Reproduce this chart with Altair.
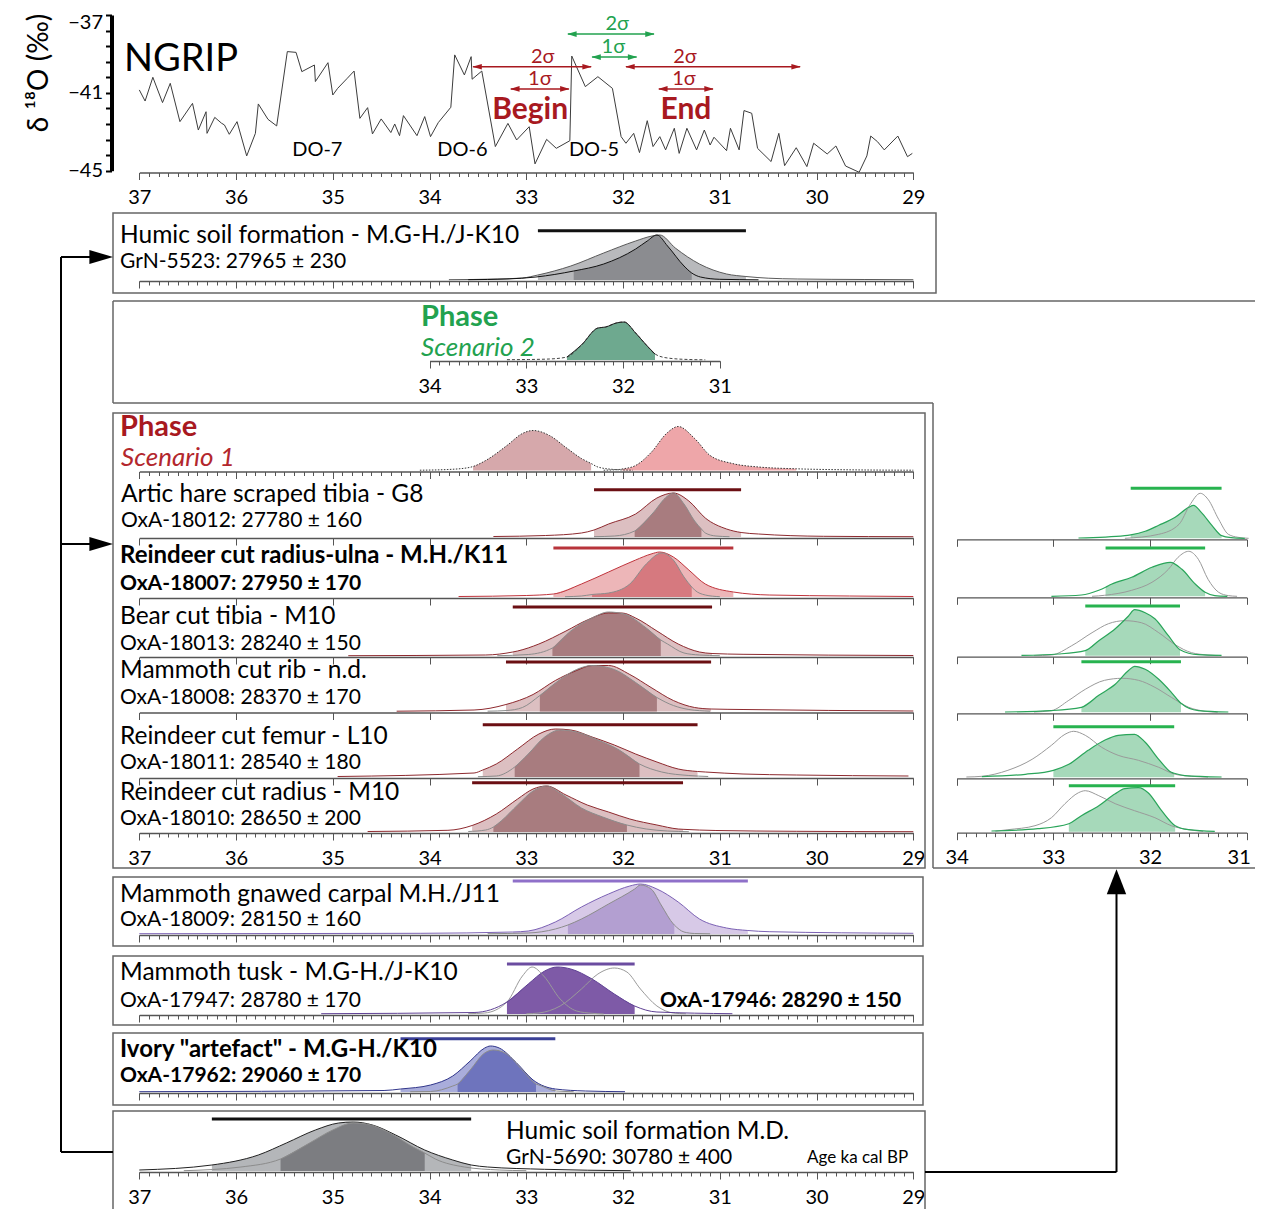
import altair as alt
import pandas as pd

# ============================ DATA ============================
# NGRIP delta-18O record (age ka cal BP, permil)
NGRIP_AGE = [37.00, 36.94, 36.86, 36.76, 36.68, 36.58, 36.45, 36.39, 36.31, 36.30,
             36.22, 36.15, 36.12, 36.07, 35.99, 35.89, 35.80, 35.77, 35.67, 35.58,
             35.47, 35.38, 35.32, 35.19, 35.18, 35.05, 35.00, 34.95, 34.85, 34.78,
             34.72, 34.64, 34.59, 34.50, 34.40, 34.36, 34.31, 34.27, 34.13, 34.05,
             33.99, 33.91, 33.78, 33.74, 33.64, 33.57, 33.56, 33.46, 33.32, 33.19,
             33.10, 32.97, 32.91, 32.79, 32.69, 32.55, 32.53, 32.39, 32.26, 32.11,
             32.02, 31.97, 31.89, 31.83, 31.75, 31.69, 31.62, 31.56, 31.47, 31.42,
             31.34, 31.24, 31.16, 31.10, 31.06, 30.93, 30.89, 30.80, 30.75, 30.67,
             30.61, 30.47, 30.39, 30.33, 30.21, 30.10, 30.03, 29.89, 29.80, 29.70,
             29.56, 29.48, 29.44, 29.37, 29.30, 29.16, 29.06, 29.01]
NGRIP_D18O = [-40.85, -41.42, -40.20, -41.50, -40.51, -42.48, -41.54, -42.91, -41.97, -43.08,
              -42.26, -42.56, -42.65, -43.13, -42.48, -44.24, -43.08, -41.57, -42.36, -42.70,
              -38.88, -38.92, -39.91, -39.57, -40.42, -39.45, -41.11, -40.77, -40.25, -39.88,
              -42.31, -41.76, -43.11, -42.34, -43.04, -42.60, -43.20, -42.17, -43.20, -42.22,
              -43.25, -42.53, -41.74, -39.05, -40.08, -39.14, -40.30, -39.88, -43.76, -42.57,
              -43.42, -42.74, -44.65, -43.39, -43.85, -43.46, -39.11, -40.68, -40.17, -40.77,
              -43.25, -43.59, -43.08, -44.07, -42.43, -43.76, -43.25, -43.93, -42.82, -44.11,
              -42.82, -43.93, -42.91, -43.68, -43.28, -43.97, -42.82, -43.93, -41.91, -42.05,
              -43.85, -44.53, -43.08, -44.74, -43.82, -44.79, -43.59, -44.14, -43.73, -44.76,
              -45.08, -44.24, -43.22, -43.51, -43.93, -43.22, -44.28, -44.11]

AGE_TICKS = [37, 36, 35, 34, 33, 32, 31, 30, 29]
AGE_MINOR = [round(29 + i / 10, 1) for i in range(81)]
SUB_TICKS = [34, 33, 32, 31]
SUB_MINOR = [round(31 + i / 10, 1) for i in range(31)]
D18O_TICKS = [-37, -37.8, -38.6, -39.4, -40.2, -41, -41.8, -42.6, -43.4, -44.2, -45]
D18O_LABELLED = [-37, -41, -45]

# boundary ranges (ka)
BEGIN_2S = [33.55, 32.33]
BEGIN_1S = [33.16, 32.56]
PHASE2_2S = [32.57, 31.68]
PHASE2_1S = [32.32, 31.86]
END_2S = [31.97, 30.17]
END_1S = [31.63, 31.07]

# probability curves: (age ka, relative probability)
HUMIC1_LIK = [(33.8, 0.3), (33.3, 1.0), (33.04, 2.0), (32.88, 5.0), (32.54, 14), (32.2, 27), (31.87, 39),
              (31.7, 44), (31.62, 45), (31.46, 32), (31.21, 16), (30.93, 6), (30.73, 3.5), (30.5, 1.8),
              (30.2, 1.0), (29.5, 0.5), (29.0, 0.3)]
HUMIC1_POST = [(33.6, 0.3), (33.2, 1.0), (32.9, 3.0), (32.51, 9), (32.2, 16), (31.87, 31), (31.75, 39),
               (31.65, 45), (31.54, 34), (31.37, 14), (31.29, 7), (31.2, 3), (31.0, 0.7), (30.6, 0.2)]
PHASE2_PDF = [(33.2, 0.3), (32.98, 0.5), (32.76, 1.0), (32.58, 3.0), (32.43, 15), (32.26, 32), (32.18, 33),
              (32.07, 37), (31.99, 38), (31.87, 27), (31.76, 15), (31.67, 6), (31.54, 2), (31.32, 0.5),
              (31.15, 0.2)]
BEGIN_PDF = [(34.1, 0.3), (33.81, 1.0), (33.59, 3.0), (33.55, 4.0), (33.42, 10), (33.2, 25), (33.04, 37),
             (32.93, 40), (32.76, 35), (32.59, 23), (32.43, 12), (32.33, 7), (32.26, 3.5), (32.09, 1.0),
             (31.9, 0.3)]
END_PDF = [(32.2, 0.3), (32.04, 1.0), (32.01, 1.5), (31.87, 5), (31.71, 18), (31.54, 38), (31.43, 44),
           (31.26, 32), (31.1, 15), (30.87, 7), (30.6, 3.5), (30.21, 1.7), (29.66, 0.7), (29.0, 0.3)]
HARE_LIK = [(33.34, 0.5), (32.8, 1.5), (32.43, 4), (32.3, 7), (32.15, 13), (31.87, 23), (31.65, 39),
            (31.48, 44), (31.32, 36), (31.15, 19), (30.93, 8), (30.78, 4.5), (30.6, 3), (29.93, 0.7),
            (29.0, 0.3)]
HARE_POST = [(32.3, 0.3), (32.09, 1), (31.88, 6), (31.7, 23), (31.54, 41), (31.48, 44), (31.37, 33),
             (31.26, 16), (31.19, 8), (31.15, 4), (31.04, 1), (30.9, 0.3)]
ULNA_LIK = [(33.7, 0.5), (33.0, 1.5), (32.72, 3), (32.43, 13), (32.15, 25), (31.87, 37), (31.71, 43),
            (31.62, 45), (31.48, 40), (31.32, 27), (31.15, 13), (30.86, 5), (30.49, 2), (29.66, 1),
            (29.0, 0.5)]
ULNA_POST = [(32.6, 0.3), (32.43, 1), (32.32, 2.5), (32.15, 4), (31.93, 13), (31.76, 33), (31.6, 44),
             (31.48, 37), (31.37, 20), (31.29, 10), (31.26, 7), (31.15, 2), (31.0, 0.3)]
BEAR_LIK = [(34.84, 0.3), (33.42, 1), (33.14, 4), (33.09, 5), (32.87, 12), (32.59, 25), (32.37, 36),
            (32.15, 43), (32.01, 43), (31.87, 38), (31.65, 25), (31.43, 12), (31.21, 4), (31.08, 2.5),
            (30.76, 1.7), (29.0, 0.5)]
BEAR_POST = [(33.3, 0.3), (32.98, 1.5), (32.73, 8), (32.54, 25), (32.32, 38), (32.15, 44), (31.99, 42),
             (31.76, 28), (31.61, 16), (31.54, 12), (31.37, 3), (31.21, 1), (31.0, 0.3)]
RIB_LIK = [(34.34, 0.3), (33.54, 1.5), (33.21, 7), (32.93, 17), (32.7, 31), (32.48, 41), (32.32, 46),
           (32.15, 46), (31.93, 37), (31.71, 24), (31.48, 11), (31.26, 4), (31.09, 2.5), (30.76, 2),
           (29.0, 0.5)]
RIB_POST = [(33.4, 0.3), (33.2, 1), (33.04, 4), (32.86, 16), (32.65, 32), (32.48, 42), (32.32, 46),
            (32.09, 42), (31.87, 29), (31.65, 14), (31.48, 6), (31.32, 2), (31.1, 0.3)]
FEMUR_LIK = [(34.95, 0.5), (33.54, 4), (33.45, 7), (33.31, 13), (33.09, 28), (32.87, 43), (32.7, 48),
             (32.54, 47), (32.32, 40), (32.09, 32), (31.87, 23), (31.65, 15), (31.43, 8), (31.23, 5.5),
             (31.15, 5), (30.76, 3), (30.21, 2), (29.05, 1)]
FEMUR_POST = [(33.5, 0.3), (33.31, 1), (33.12, 10), (32.98, 23), (32.81, 40), (32.65, 47), (32.48, 45),
              (32.26, 37), (32.04, 27), (31.83, 13), (31.6, 5), (31.32, 1.5), (31.12, 0.5)]
RADIUS_LIK = [(34.64, 0.5), (33.81, 1.7), (33.56, 6.5), (33.31, 18), (33.09, 33), (32.93, 43), (32.79, 46),
              (32.59, 37), (32.37, 27), (32.15, 20), (31.93, 13), (31.65, 7), (31.43, 3), (31.38, 2.7),
              (31.04, 1.5), (30.21, 0.7), (29.0, 0.3)]
RADIUS_POST = [(33.6, 0.5), (33.42, 2), (33.34, 5), (33.26, 11), (33.09, 27), (32.93, 41), (32.79, 46),
               (32.65, 39), (32.43, 24), (32.21, 15), (31.96, 7), (31.76, 3), (31.54, 1), (31.32, 0.3)]
CARPAL_LIK = [(37.0, 0.3), (34.09, 0.7), (33.14, 2), (32.98, 3), (32.7, 12), (32.43, 27), (32.15, 40),
              (31.93, 48), (31.82, 50), (31.65, 45), (31.43, 32), (31.21, 15), (30.93, 6), (30.71, 3.5),
              (30.49, 2.3), (29.0, 0.7)]
CARPAL_POST = [(33.4, 0.3), (32.98, 1), (32.7, 5), (32.57, 9), (32.43, 15), (32.15, 30), (31.88, 45),
               (31.82, 49), (31.71, 45), (31.6, 28), (31.48, 10), (31.47, 9), (31.37, 2), (31.26, 0.5),
               (31.1, 0.2)]
TUSK_POST = [(35.12, 0.3), (33.54, 1.5), (33.2, 12), (32.98, 30), (32.81, 43), (32.68, 47), (32.54, 45),
             (32.32, 35), (32.09, 20), (31.88, 8), (31.65, 2), (30.87, 0.3)]
TUSK_17947 = [(33.6, 0.3), (33.43, 1), (33.2, 12), (33.04, 38), (32.94, 47), (32.82, 38), (32.65, 15),
              (32.48, 3), (32.32, 0.7), (32.2, 0)]
TUSK_17946 = [(33.0, 0.2), (32.87, 1), (32.65, 8), (32.43, 25), (32.26, 40), (32.09, 46), (31.96, 42),
              (31.82, 25), (31.65, 8), (31.48, 1), (31.35, 0.2)]
IVORY_LIK = [(37.0, 0.3), (34.47, 1.5), (34.3, 3), (33.99, 7), (33.76, 16), (33.58, 31), (33.43, 44),
             (33.37, 46), (33.28, 44), (33.1, 29), (32.93, 12), (32.7, 3), (32.39, 1), (31.98, 0.3)]
IVORY_POST = [(34.2, 0.3), (33.99, 0.5), (33.76, 6), (33.71, 8), (33.58, 22), (33.43, 39), (33.34, 42),
              (33.22, 39), (33.04, 22), (32.9, 8), (32.87, 7), (32.69, 1), (32.51, 0.3)]
HUMIC2_LIK = [(37.0, 1), (36.25, 6), (35.77, 16), (35.48, 28), (35.18, 41), (34.94, 48), (34.79, 49),
              (34.59, 46), (34.35, 36), (34.05, 21), (33.76, 11), (33.57, 6), (33.4, 4), (32.81, 1.7),
              (31.92, 0.3)]
HUMIC2_POST = [(36.54, 0.3), (35.95, 4), (35.54, 12), (35.24, 28), (35.0, 41), (34.79, 48), (34.65, 47),
               (34.41, 38), (34.17, 24), (34.05, 18), (33.94, 12), (33.64, 4), (33.28, 1), (33.0, 0.3)]
# Scenario 2 (green) posteriors and Scenario 1 posteriors (grey)
S2_HARE = [(32.74, 0.3), (32.26, 2.7), (32.2, 3.5), (32.05, 7), (31.91, 13), (31.74, 21), (31.6, 31),
           (31.55, 33), (31.47, 26), (31.36, 13), (31.26, 2.7), (31.16, 0.7), (31.02, 0)]
S1_HARE = [(32.26, 0), (31.91, 4), (31.7, 14), (31.59, 33), (31.48, 45), (31.4, 39), (31.29, 19),
           (31.19, 4), (31.09, 1), (30.98, 0)]
S2_ULNA = [(33.02, 0), (32.71, 1.3), (32.53, 6), (32.46, 9), (32.4, 12), (32.19, 19), (31.98, 29),
           (31.79, 34), (31.67, 27), (31.53, 12), (31.43, 4), (31.33, 0.7), (31.2, 0)]
S1_ULNA = [(32.6, 0), (32.47, 1), (32.19, 6), (31.98, 14), (31.81, 27), (31.71, 39), (31.6, 45),
           (31.5, 37), (31.4, 17), (31.29, 4), (31.19, 0.7), (31.1, 0)]
S2_BEAR = [(33.33, 0.3), (32.95, 1.7), (32.67, 5), (32.53, 15), (32.36, 27), (32.22, 40), (32.16, 46),
           (32.05, 43), (31.95, 37), (31.81, 20), (31.69, 6), (31.5, 1), (31.26, 0.3)]
S1_BEAR = [(33.2, 0), (33.02, 0.7), (32.81, 10), (32.6, 23), (32.43, 32), (32.26, 35), (32.09, 33),
           (31.91, 23), (31.74, 11), (31.57, 3), (31.4, 0.7), (31.3, 0)]
S2_RIB = [(33.5, 0.3), (33.02, 1.7), (32.71, 5), (32.53, 17), (32.36, 28), (32.22, 42), (32.16, 46),
          (32.05, 43), (31.91, 33), (31.78, 20), (31.68, 9), (31.5, 1.7), (31.19, 0.3)]
S1_RIB = [(33.2, 0.3), (33.02, 1.7), (32.84, 12), (32.67, 23), (32.47, 32), (32.29, 34), (32.12, 32),
          (31.95, 25), (31.78, 15), (31.6, 5), (31.43, 1), (31.3, 0)]
S2_FEMUR = [(33.74, 0.7), (33.29, 3), (33.0, 7), (32.84, 13), (32.64, 27), (32.47, 37), (32.33, 42),
            (32.16, 43), (32.05, 35), (31.91, 18), (31.78, 5), (31.75, 4), (31.64, 1.7), (31.26, 0.3)]
S1_FEMUR = [(33.9, 0.3), (33.74, 1), (33.47, 7), (33.22, 18), (33.02, 32), (32.88, 43), (32.79, 46),
            (32.67, 42), (32.5, 30), (32.33, 22), (32.12, 17), (31.91, 10), (31.74, 3), (31.57, 1),
            (31.4, 0.2)]
S2_RADIUS = [(33.64, 0.7), (33.16, 3), (32.84, 8), (32.71, 16), (32.53, 26), (32.36, 38), (32.26, 43),
             (32.12, 44), (32.02, 39), (31.88, 21), (31.74, 6), (31.6, 2), (31.33, 0.3)]
S1_RADIUS = [(33.6, 0.5), (33.47, 2), (33.19, 6), (33.02, 14), (32.88, 28), (32.74, 39), (32.67, 41),
             (32.53, 36), (32.36, 28), (32.16, 21), (31.95, 14), (31.78, 6), (31.6, 2), (31.45, 0.3)]

# 95 % ranges (bars) and shaded posterior ranges (ka)
HUMIC1_RANGE, HUMIC1_SHADE = [32.88, 30.73], [32.51, 31.29]
PHASE2_SHADE = [32.58, 31.67]
BEGIN_SHADE, END_SHADE = [33.55, 32.33], [32.01, 30.21]
HARE_RANGE, HARE_SHADE = [32.30, 30.78], [31.88, 31.19]
ULNA_RANGE, ULNA_SHADE = [32.72, 30.86], [32.32, 31.29]
BEAR_RANGE, BEAR_SHADE = [33.14, 31.08], [32.73, 31.61]
RIB_RANGE, RIB_SHADE = [33.21, 31.09], [32.86, 31.65]
FEMUR_RANGE, FEMUR_SHADE = [33.45, 31.23], [33.12, 31.83]
RADIUS_RANGE, RADIUS_SHADE = [33.56, 31.38], [33.34, 31.96]
CARPAL_RANGE, CARPAL_SHADE = [33.14, 30.71], [32.57, 31.47]
TUSK_RANGE = [33.20, 31.88]
IVORY_RANGE, IVORY_SHADE = [34.30, 32.70], [33.71, 32.90]
HUMIC2_RANGE, HUMIC2_SHADE = [36.25, 33.57], [35.54, 34.05]
S2_HARE_RANGE = [32.20, 31.26]
S2_ULNA_RANGE = [32.46, 31.43]
S2_BEAR_RANGE = [32.67, 31.69]
S2_RIB_RANGE = [32.71, 31.68]
S2_FEMUR_RANGE = [33.00, 31.75]
S2_RADIUS_RANGE = [32.84, 31.74]

# texts
TITLES = ["Humic soil formation - M.G-H./J-K10", "Artic hare scraped tibia - G8",
          "Reindeer cut radius-ulna - M.H./K11", "Bear cut tibia - M10", "Mammoth cut rib - n.d.",
          "Reindeer cut femur - L10", "Reindeer cut radius - M10", "Mammoth gnawed carpal M.H./J11",
          "Mammoth tusk - M.G-H./J-K10", "Ivory \"artefact\" - M.G-H./K10", "Humic soil formation M.D."]
DATES = ["GrN-5523: 27965 ± 230", "OxA-18012: 27780 ± 160", "OxA-18007: 27950 ± 170",
         "OxA-18013: 28240 ± 150", "OxA-18008: 28370 ± 170", "OxA-18011: 28540 ± 180",
         "OxA-18010: 28650 ± 200", "OxA-18009: 28150 ± 160", "OxA-17947: 28780 ± 170",
         "OxA-17962:  29060 ± 170", "GrN-5690: 30780 ± 400"]
BOLD_ROWS = [2, 9]
EXTRA_DATE = "OxA-17946: 28290 ± 150"
AXIS_NOTE = "Age ka cal BP"
DO_LABELS = ["DO-7", "DO-6", "DO-5"]
DO_AGES = [35.16, 33.66, 32.30]

# ============================ LAYOUT ============================
W, H = 1247, 1201
M = 8
FONT = "Lato"
RED = "#a8191f"
GREEN = "#22a24f"

CX = alt.Scale(domain=[M, M + W], range=[0, W], nice=False, zero=False)
CY = alt.Scale(domain=[M, M + H], range=[0, H], nice=False, zero=False)


def sc(dom, rng):
    return alt.Scale(domain=dom, range=[rng[0] - M, rng[1] - M], nice=False, zero=False)


def MAIN():
    return sc([37, 29], [139.3, 913.3])


def PH2():
    return sc([34, 31], [429.55, 719.8])


def RIGHT():
    return sc([34, 31], [956.7, 1246.7])


def ysc(base, top=50):
    b = base - M - 1
    return alt.Scale(domain=[0, top], range=[b, b - top], nice=False, zero=False)


def df_pts(pts):
    return pd.DataFrame(pts, columns=["age", "p"])


def in_range(rng):
    lo, hi = min(rng) - 1e-6, max(rng) + 1e-6
    return f"datum.age >= {lo} && datum.age <= {hi}"


def fill_layer(pts, rng, color, xs, ys):
    return alt.Chart(df_pts(pts)).transform_filter(in_range(rng)).mark_area(
        color=color, interpolate="monotone", opacity=1).encode(
        x=alt.X("age:Q", scale=xs, axis=None),
        y=alt.Y("p:Q", scale=ys, axis=None),
        y2=alt.Y2Datum(0),
    )


def line_layer(pts, color, xs, ys, width=1.0, dash=None, rng=None):
    kw = dict(color=color, strokeWidth=width, interpolate="monotone")
    if dash:
        kw["strokeDash"] = dash
    ch = alt.Chart(df_pts(pts))
    if rng:
        ch = ch.transform_filter(in_range(rng))
    return ch.mark_line(**kw).encode(
        x=alt.X("age:Q", scale=xs, axis=None),
        y=alt.Y("p:Q", scale=ys, axis=None),
    )


def bar_layer(rng, lev, color, xs, ys):
    d = pd.DataFrame([{"a": rng[0], "b": rng[1], "lev": lev}])
    return alt.Chart(d).mark_rule(color=color, strokeWidth=3).encode(
        x=alt.X("a:Q", scale=xs, axis=None), x2="b:Q",
        y=alt.Y("lev:Q", scale=ys, axis=None),
    )


def axis_layers(xs, base, major, minor=None, labels=False, last_shift=0):
    common = dict(orient="bottom", offset=base - M - H, grid=False, title=None,
                  tickColor="#555", tickWidth=1, labelFlush=False, labelOverlap=False)
    extra = {}
    if last_shift:
        extra["labelOffset"] = {"condition": {"test": f"datum.value == {major[-1]}", "value": last_shift},
                                "value": 0}
    ax = alt.Axis(values=major, tickSize=7, labels=labels, domain=True, domainColor="#555",
                  domainWidth=1.3, labelFont=FONT, labelFontSize=20, labelColor="black",
                  labelPadding=8, format="d", **common, **extra)
    out = [alt.Chart(pd.DataFrame({"age": major})).mark_point(opacity=0).encode(
        x=alt.X("age:Q", scale=xs, axis=ax))]
    if minor:
        ax2 = alt.Axis(values=minor, tickSize=4, labels=False, domain=False, **common)
        out.append(alt.Chart(pd.DataFrame({"age": minor})).mark_point(opacity=0).encode(
            x=alt.X("age:Q", scale=xs, axis=ax2)))
    return out


def row(base, xs, fills, lines, bars, major, minor=None, labels=False, last_shift=0):
    ys = ysc(base)
    out = [fill_layer(p, r, c, xs, ys) for p, r, c in fills]
    for ln in lines:
        p, c, w, d = ln[:4]
        rng = ln[4] if len(ln) > 4 else None
        out.append(line_layer(p, c, xs, ys, w, d, rng))
    out += [bar_layer(r, lev, c, xs, ys) for r, lev, c in bars]
    out += axis_layers(xs, base, major, minor, labels, last_shift)
    return out


def text_layer(items, size, color="black", weight="normal", style="normal", align="left", angle=None):
    d = pd.DataFrame(items, columns=["x", "y", "t"])
    kw = dict(font=FONT, fontSize=size, color=color, fontWeight=weight, fontStyle=style,
              align=align, baseline="middle")
    if angle is not None:
        kw["angle"] = angle
    return alt.Chart(d).mark_text(**kw).encode(
        x=alt.X("x:Q", scale=CX, axis=None), y=alt.Y("y:Q", scale=CY, axis=None), text="t:N")


L = []

# ---- frames and connectors (canvas) ----
boxes = pd.DataFrame([
    (113, 213, 936, 293), (113, 413, 925, 868), (113, 877, 923, 946),
    (113, 956, 923, 1025), (113, 1033, 923, 1105), (113, 1111, 925, 1230)],
    columns=["x1", "y1", "x2", "y2"])
L.append(alt.Chart(boxes).mark_rect(fillOpacity=0, stroke="#666", strokeWidth=1.5).encode(
    x=alt.X("x1:Q", scale=CX, axis=None), x2="x2:Q", y=alt.Y("y1:Q", scale=CY, axis=None), y2="y2:Q"))
frame = pd.DataFrame([(1263, 301, 113, 301), (113, 301, 113, 403), (113, 403, 933, 403),
                      (933, 403, 933, 868), (933, 868, 1263, 868)], columns=["x1", "y1", "x2", "y2"])
L.append(alt.Chart(frame).mark_rule(color="#666", strokeWidth=1.5).encode(
    x=alt.X("x1:Q", scale=CX, axis=None), x2="x2:Q", y=alt.Y("y1:Q", scale=CY, axis=None), y2="y2:Q"))
conn = pd.DataFrame([(100, 257, 61, 257), (61, 257, 61, 1152), (61, 1152, 113, 1152),
                     (61, 544, 100, 544), (925, 1172, 1116.5, 1172), (1116.5, 1172, 1116.5, 885)],
                    columns=["x1", "y1", "x2", "y2"])
L.append(alt.Chart(conn).mark_rule(color="black", strokeWidth=2).encode(
    x=alt.X("x1:Q", scale=CX, axis=None), x2="x2:Q", y=alt.Y("y1:Q", scale=CY, axis=None), y2="y2:Q"))
heads_r = pd.DataFrame([(101.2, 257), (101.2, 544)], columns=["x", "y"])
L.append(alt.Chart(heads_r).mark_point(shape="M -1 -0.6 L 1 0 L -1 0.6 Z", size=560, filled=True,
                                       color="black", opacity=1).encode(
    x=alt.X("x:Q", scale=CX, axis=None), y=alt.Y("y:Q", scale=CY, axis=None)))
heads_u = pd.DataFrame([(1116.5, 881.7)], columns=["x", "y"])
L.append(alt.Chart(heads_u).mark_point(shape="M -0.78 1 L 0 -1 L 0.78 1 Z", size=620, filled=True,
                                       color="black", opacity=1).encode(
    x=alt.X("x:Q", scale=CX, axis=None), y=alt.Y("y:Q", scale=CY, axis=None)))

# ---- NGRIP panel ----
NX = MAIN()
NY = alt.Scale(domain=[-45, -37], range=[170.7 - M, 15 - M], nice=False, zero=False)
yax = alt.Axis(orient="left", offset=-(111.5 - M), values=D18O_TICKS, tickSize=6, tickWidth=2,
               tickColor="black", domainColor="black", domainWidth=4, grid=False, title=None,
               labelFont=FONT, labelFontSize=20, labelColor="black", labelPadding=3, format=".0f",
               labelOffset={"condition": {"test": "datum.value == -37", "value": 7}, "value": 0},
               labelExpr="indexof(%s, datum.value) >= 0 ? datum.label : ''" % str(D18O_LABELLED))
ng = pd.DataFrame({"age": NGRIP_AGE, "d18o": NGRIP_D18O})
L.append(alt.Chart(ng).mark_line(color="#3c3c3c", strokeWidth=1).encode(
    x=alt.X("age:Q", scale=NX, axis=None), y=alt.Y("d18o:Q", scale=NY, axis=yax)))
L += axis_layers(MAIN(), 172.5, AGE_TICKS, AGE_MINOR, labels=True)


def sigma(rng, lev, color, label, lab_age):
    d = pd.DataFrame([{"a": rng[0], "b": rng[1], "lev": lev, "lab": label, "la": lab_age,
                       "ll": lev + 0.5}])
    enc_y = alt.Y("lev:Q", scale=NY, axis=None)
    out = [alt.Chart(d).mark_rule(color=color, strokeWidth=1.6).encode(
        x=alt.X("a:Q", scale=NX, axis=None), x2="b:Q", y=enc_y)]
    out.append(alt.Chart(d).mark_point(shape="M 1 -0.6 L -1 0 L 1 0.6 Z", size=90, filled=True,
                                       opacity=1, color=color, xOffset=4).encode(
        x=alt.X("a:Q", scale=NX, axis=None), y=enc_y))
    out.append(alt.Chart(d).mark_point(shape="M -1 -0.6 L 1 0 L -1 0.6 Z", size=90, filled=True,
                                       opacity=1, color=color, xOffset=-4).encode(
        x=alt.X("b:Q", scale=NX, axis=None), y=enc_y))
    out.append(alt.Chart(d).mark_text(font=FONT, fontSize=20, color=color, baseline="middle").encode(
        x=alt.X("la:Q", scale=NX, axis=None), y=alt.Y("ll:Q", scale=NY, axis=None), text="lab:N"))
    return out


L += sigma(BEGIN_2S, -39.66, RED, "2σ", 32.83)
L += sigma(BEGIN_1S, -40.80, RED, "1σ", 32.86)
L += sigma(PHASE2_2S, -37.98, GREEN, "2σ", 32.06)
L += sigma(PHASE2_1S, -39.16, GREEN, "1σ", 32.10)
L += sigma(END_2S, -39.66, RED, "2σ", 31.36)
L += sigma(END_1S, -40.80, RED, "1σ", 31.37)

be = pd.DataFrame({"age": [32.96, 31.35], "v": [-41.88, -41.88], "t": ["Begin", "End"]})
L.append(alt.Chart(be).mark_text(font=FONT, fontSize=30, fontWeight="bold", color=RED,
                                 baseline="middle").encode(
    x=alt.X("age:Q", scale=NX, axis=None), y=alt.Y("v:Q", scale=NY, axis=None), text="t:N"))
do = pd.DataFrame({"age": DO_AGES, "v": [-43.94] * 3, "t": DO_LABELS})
L.append(alt.Chart(do).mark_text(font=FONT, fontSize=20, color="black", baseline="middle").encode(
    x=alt.X("age:Q", scale=NX, axis=None), y=alt.Y("v:Q", scale=NY, axis=None), text="t:N"))

# ---- probability rows ----
PL = "#8c8c8c"
L += row(281, MAIN(),
         [(HUMIC1_LIK, HUMIC1_RANGE, "#b8b9bc"), (HUMIC1_POST, HUMIC1_SHADE, "#8b8c90")],
         [(HUMIC1_LIK, "#5a5a5a", 1, None), (HUMIC1_POST, "#111", 1, None)],
         [(HUMIC1_RANGE, 49.3, "#111")], AGE_TICKS, AGE_MINOR)
L += row(361, PH2(), [(PHASE2_PDF, PHASE2_SHADE, "#6ea98f")],
         [(PHASE2_PDF, "#444", 1, [3, 2]), (PHASE2_PDF, "#222", 1, None, PHASE2_SHADE)],
         [], SUB_TICKS, SUB_MINOR, labels=True)
L += row(471.5, MAIN(),
         [(BEGIN_PDF, BEGIN_SHADE, "#d6a8ab"), (END_PDF, END_SHADE, "#eea6a9")],
         [(BEGIN_PDF, "#333", 1, [1.5, 1.5]), (END_PDF, "#333", 1, [1.5, 1.5])],
         [], AGE_TICKS, AGE_MINOR)

MAUVE_L, MAUVE_P, MAUVE_LINE, DARK_RED = "#dcbfc1", "#a87c7f", "#8e2a2f", "#6b0f13"
L += row(538, MAIN(), [(HARE_LIK, HARE_RANGE, MAUVE_L), (HARE_POST, HARE_SHADE, MAUVE_P)],
         [(HARE_LIK, MAUVE_LINE, 1, None), (HARE_POST, PL, 1, None)],
         [(HARE_RANGE, 47.3, DARK_RED)], AGE_TICKS)
L += row(598, MAIN(), [(ULNA_LIK, ULNA_RANGE, "#edb6b8"), (ULNA_POST, ULNA_SHADE, "#d6797f")],
         [(ULNA_LIK, "#c0343c", 1, None), (ULNA_POST, PL, 1, None)],
         [(ULNA_RANGE, 49, "#b8343b")], AGE_TICKS)
for base, lik, post, rng, shade, lev in [
        (657, BEAR_LIK, BEAR_POST, BEAR_RANGE, BEAR_SHADE, 49),
        (712.5, RIB_LIK, RIB_POST, RIB_RANGE, RIB_SHADE, 49.5),
        (778, FEMUR_LIK, FEMUR_POST, FEMUR_RANGE, FEMUR_SHADE, 52.3)]:
    L += row(base, MAIN(), [(lik, rng, MAUVE_L), (post, shade, MAUVE_P)],
             [(lik, MAUVE_LINE, 1, None), (post, PL, 1, None)], [(rng, lev, DARK_RED)], AGE_TICKS)
L += row(833, MAIN(), [(RADIUS_LIK, RADIUS_RANGE, MAUVE_L), (RADIUS_POST, RADIUS_SHADE, MAUVE_P)],
         [(RADIUS_LIK, MAUVE_LINE, 1, None), (RADIUS_POST, PL, 1, None)],
         [(RADIUS_RANGE, 49.3, DARK_RED)], AGE_TICKS, AGE_MINOR, labels=True)

# scenario 2 column
G_FILL, G_LINE, G_BAR, GREY = "#a6d9ba", "#2aa55a", "#27b34f", "#9a9a9a"
s2 = [(539.3, S2_HARE, S1_HARE, S2_HARE_RANGE, 50),
      (597.3, S2_ULNA, S1_ULNA, S2_ULNA_RANGE, 48.3),
      (656.7, S2_BEAR, S1_BEAR, S2_BEAR_RANGE, 49.7),
      (713.3, S2_RIB, S1_RIB, S2_RIB_RANGE, 50.6),
      (778.3, S2_FEMUR, S1_FEMUR, S2_FEMUR_RANGE, 50.6),
      (832.7, S2_RADIUS, S1_RADIUS, S2_RADIUS_RANGE, 46)]
for i, (base, post, prior, rng, lev) in enumerate(s2):
    last = i == len(s2) - 1
    L += row(base, RIGHT(), [(post, rng, G_FILL)],
             [(prior, GREY, 1, None), (post, G_LINE, 1.2, None)], [(rng, lev, G_BAR)],
             SUB_TICKS, SUB_MINOR if last else None, labels=last, last_shift=-8 if last else 0)

L += row(935, MAIN(), [(CARPAL_LIK, CARPAL_RANGE, "#d7c9e7"), (CARPAL_POST, CARPAL_SHADE, "#b39fd1")],
         [(CARPAL_LIK, "#7b61b4", 1, None), (CARPAL_POST, PL, 1, None)],
         [(CARPAL_RANGE, 53, "#8f70c9")], AGE_TICKS, AGE_MINOR)
L += row(1015, MAIN(), [(TUSK_POST, TUSK_RANGE, "#7e5aa7")],
         [(TUSK_17947, GREY, 1, None), (TUSK_17946, GREY, 1, None), (TUSK_POST, "#5f4194", 1, None)],
         [(TUSK_RANGE, 50, "#6b4ca0")], AGE_TICKS, AGE_MINOR)
L += row(1093, MAIN(), [(IVORY_LIK, IVORY_RANGE, "#a9addb"), (IVORY_POST, IVORY_SHADE, "#6e74bd")],
         [(IVORY_LIK, "#30358a", 1, None), (IVORY_POST, PL, 1, None)],
         [(IVORY_RANGE, 53.3, "#3b4097")], AGE_TICKS, AGE_MINOR)
L += row(1172, MAIN(), [(HUMIC2_LIK, HUMIC2_RANGE, "#b4b6b9"), (HUMIC2_POST, HUMIC2_SHADE, "#7c7d81")],
         [(HUMIC2_LIK, "#222", 1, None), (HUMIC2_POST, PL, 1, None)],
         [(HUMIC2_RANGE, 52, "#111")], AGE_TICKS, AGE_MINOR, labels=True)

# ---- texts ----
TITLE_POS = [(120, 236), (121, 495), (120, 556), (120, 617), (120, 671), (120, 737), (120, 793),
             (120, 895), (120, 973), (120, 1050), (506, 1132)]
DATE_POS = [(120, 262), (121, 521), (120, 584), (120, 644), (120, 698), (120, 763), (120, 819),
            (120, 920), (120, 1001), (120, 1076), (506, 1158)]
norm_t = [(x, y, t) for i, ((x, y), t) in enumerate(zip(TITLE_POS, TITLES)) if i not in BOLD_ROWS]
bold_t = [(x, y, t) for i, ((x, y), t) in enumerate(zip(TITLE_POS, TITLES)) if i in BOLD_ROWS]
norm_d = [(x, y, t) for i, ((x, y), t) in enumerate(zip(DATE_POS, DATES)) if i not in BOLD_ROWS]
bold_d = [(x, y, t) for i, ((x, y), t) in enumerate(zip(DATE_POS, DATES)) if i in BOLD_ROWS]
bold_d.append((660, 1001, EXTRA_DATE))
L.append(text_layer(norm_t, 24.5))
L.append(text_layer(bold_t, 24, weight="bold"))
L.append(text_layer(norm_d, 21))
L.append(text_layer(bold_d, 21, weight="bold"))
L.append(text_layer([(807, 1158, AXIS_NOTE)], 17))
L.append(text_layer([(120, 427, "Phase")], 29, color=RED, weight="bold"))
L.append(text_layer([(121, 458, "Scenario 1")], 26, color="#b3272d", style="italic"))
L.append(text_layer([(421, 317, "Phase")], 29, color=GREEN, weight="bold"))
L.append(text_layer([(421, 348, "Scenario 2")], 26, color=GREEN, style="italic"))
L.append(text_layer([(124, 60, "NGRIP")], 38))
L.append(text_layer([(40, 73, "δ ¹⁸O (‰)")], 28, align="center", angle=270))

chart = alt.layer(*L).resolve_scale(x="independent", y="independent").properties(
    width=W, height=H, padding=0, autosize=alt.AutoSizeParams(type="none"), background="white"
).configure_view(stroke=None)

chart.save("out.html", embed_options={"renderer": "svg", "actions": False})
